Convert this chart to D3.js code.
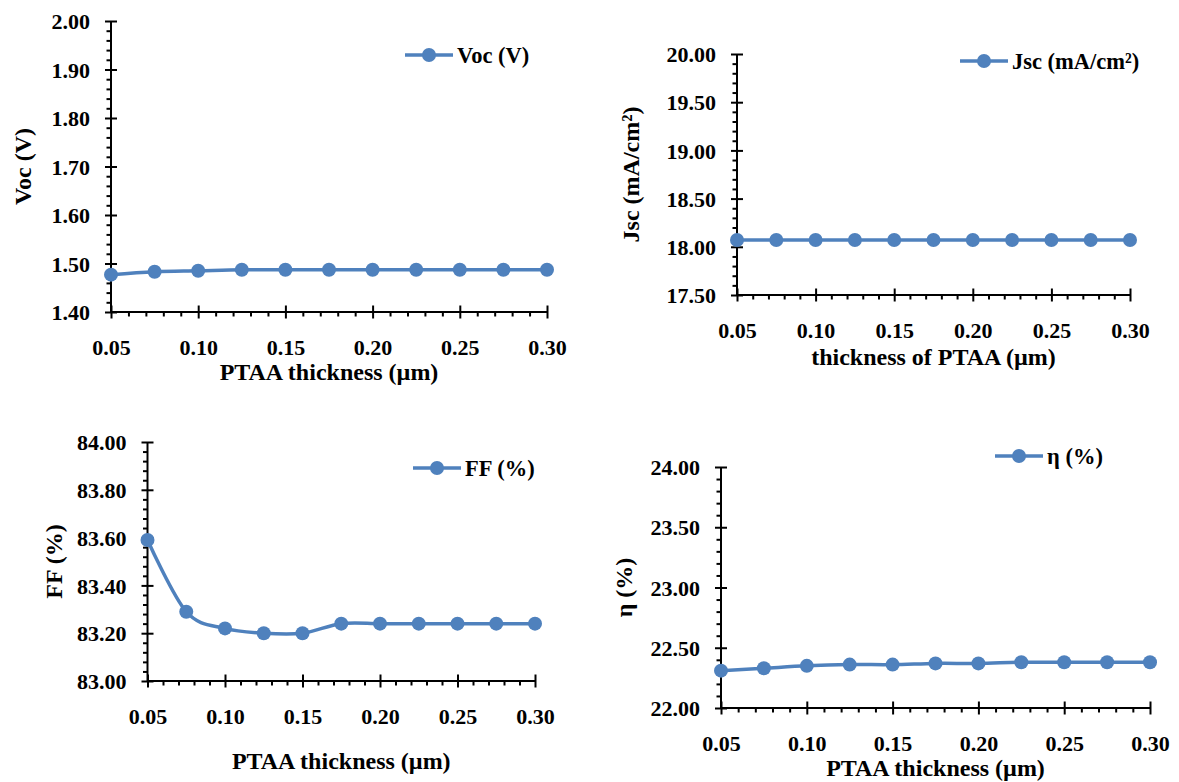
<!DOCTYPE html>
<html>
<head>
<meta charset="utf-8">
<script src="https://cdn.jsdelivr.net/npm/d3@7"></script>
<style>
  body { margin: 0; background: #fff; }
  svg text { font-family: "Liberation Serif", Tinos, "Times New Roman", "DejaVu Serif", serif !important; font-weight: bold; fill: #000; }
  .axis path, .axis line { stroke: #000; stroke-width: 2; }
</style>
</head>
<body>
<svg id="chart" width="1179" height="782"></svg>
<script>
// ---- data ----
const thickness = [0.05, 0.075, 0.10, 0.125, 0.15, 0.175, 0.20, 0.225, 0.25, 0.275, 0.30]
const voc = [1.477, 1.483, 1.485, 1.487, 1.487, 1.487, 1.487, 1.487, 1.487, 1.487, 1.487]
const jsc = [18.07, 18.07, 18.07, 18.07, 18.07, 18.07, 18.07, 18.07, 18.07, 18.07, 18.07]
const ff = [83.59, 83.29, 83.22, 83.20, 83.20, 83.24, 83.24, 83.24, 83.24, 83.24, 83.24]
const eta = [22.31, 22.33, 22.35, 22.36, 22.36, 22.37, 22.37, 22.38, 22.38, 22.38, 22.38]

const xMajor = [0.05, 0.10, 0.15, 0.20, 0.25, 0.30]

// ---- layout for each panel ----
const panels = [
  {values: voc, yTitle: 'Voc (V)', legend: 'Voc (V)', xTitle: 'PTAA thickness (µm)',
   domain: [1.40, 2.00], major: 0.10, minor: 0.02,
   left: 111, right: 547, top: 21, bottom: 312, xTitleY: 372, yTitleX: 23, legX: 405, legY: 55},
  {values: jsc, yTitle: 'Jsc (mA/cm²)', legend: 'Jsc (mA/cm²)', xTitle: 'thickness of PTAA (µm)',
   domain: [17.50, 20.00], major: 0.50, minor: 0.10,
   left: 737, right: 1130, top: 54, bottom: 295, xTitleY: 357, yTitleX: 631, legX: 960, legY: 61},
  {values: ff, yTitle: 'FF (%)', legend: 'FF (%)', xTitle: 'PTAA thickness (µm)',
   domain: [83.00, 84.00], major: 0.20, minor: 0.04,
   left: 147.5, right: 535, top: 442, bottom: 681, xTitleY: 761, yTitleX: 54, legX: 413, legY: 468},
  {values: eta, yTitle: 'η (%)', legend: 'η (%)', xTitle: 'PTAA thickness (µm)',
   domain: [22.00, 24.00], major: 0.50, minor: 0.10,
   left: 721, right: 1150, top: 467, bottom: 708, xTitleY: 768, yTitleX: 624, legX: 995, legY: 456}
]

const blue = '#4f81bd'
const svg = d3.select('#chart')

const stepRange = (lo, hi, step) => {
  const n = Math.round((hi - lo) / step)
  return d3.range(n + 1).map(i => +(lo + i * step).toFixed(6))
}

panels.forEach(p => {

  const x = d3.scaleLinear().domain([0.05, 0.30]).range([p.left, p.right])
  const y = d3.scaleLinear().domain(p.domain).range([p.bottom, p.top])

  const g = svg.append('g')

  // minor ticks (outside only)
  const xMinor = stepRange(0.05, 0.30, 0.01).filter(v => !xMajor.some(m => Math.abs(m - v) < 1e-6))
  const yMajor = stepRange(p.domain[0], p.domain[1], p.major)
  const yMinor = stepRange(p.domain[0], p.domain[1], p.minor).filter(v => !yMajor.some(m => Math.abs(m - v) < 1e-6))

  g.append('g')
    .attr('class', 'axis')
    .attr('transform', `translate(0,${p.bottom})`)
    .call(d3.axisBottom(x).tickValues(xMinor).tickSize(4.5).tickSizeOuter(0).tickFormat(''))
    .call(a => a.select('.domain').remove())

  g.append('g')
    .attr('class', 'axis')
    .attr('transform', `translate(${p.left},0)`)
    .call(d3.axisLeft(y).tickValues(yMinor).tickSize(4.5).tickSizeOuter(0).tickFormat(''))
    .call(a => a.select('.domain').remove())

  // major ticks crossing the axis line
  g.append('g')
    .attr('class', 'axis')
    .attr('transform', `translate(0,${p.bottom})`)
    .call(d3.axisBottom(x).tickValues(xMajor).tickSize(6.5).tickSizeOuter(0).tickFormat(d3.format('.2f')))
    .call(a => {
      a.attr('font-family', null)
      a.selectAll('.tick line').attr('y1', -6.5)
      a.selectAll('.tick text').attr('y', 35).attr('dy', '0.35em').style('font-size', '22px')
      a.select('.domain').attr('d', `M${p.left},0H${p.right}`)
    })

  g.append('g')
    .attr('class', 'axis')
    .attr('transform', `translate(${p.left},0)`)
    .call(d3.axisLeft(y).tickValues(yMajor).tickSize(6).tickSizeOuter(0).tickFormat(d3.format('.2f')))
    .call(a => {
      a.attr('font-family', null)
      a.selectAll('.tick line').attr('x1', 6)
      a.selectAll('.tick text').attr('x', -21).attr('dy', '0.35em').style('font-size', '22px')
      a.select('.domain').attr('d', `M0,${p.bottom}V${p.top}`)
    })

  // axis titles
  g.append('text')
    .attr('x', (p.left + p.right) / 2)
    .attr('y', p.xTitleY)
    .attr('dy', '0.35em')
    .attr('text-anchor', 'middle')
    .style('font-size', '24px')
    .text(p.xTitle)

  g.append('text')
    .attr('transform', `translate(${p.yTitleX},${(p.top + p.bottom) / 2}) rotate(-90)`)
    .attr('dy', '0.35em')
    .attr('text-anchor', 'middle')
    .style('font-size', '24px')
    .text(p.yTitle)

  // series
  const pts = thickness.map((t, i) => [t, p.values[i]])

  g.append('path')
    .datum(pts)
    .attr('fill', 'none')
    .attr('stroke', blue)
    .attr('stroke-width', 3.5)
    .attr('d', d3.line().x(d => x(d[0])).y(d => y(d[1])).curve(d3.curveCardinal.tension(0)))

  g.selectAll('circle.pt')
    .data(pts)
    .join('circle')
    .attr('class', 'pt')
    .attr('cx', d => x(d[0]))
    .attr('cy', d => y(d[1]))
    .attr('r', 7)
    .attr('fill', blue)

  // legend
  const leg = g.append('g').attr('transform', `translate(${p.legX},${p.legY})`)
  leg.append('line').attr('x1', 0).attr('x2', 48).attr('stroke', blue).attr('stroke-width', 3.5)
  leg.append('circle').attr('cx', 24).attr('r', 7).attr('fill', blue)
  leg.append('text').attr('x', 52).attr('dy', '0.35em').style('font-size', '22.5px').text(p.legend)
})
</script>
</body>
</html>
